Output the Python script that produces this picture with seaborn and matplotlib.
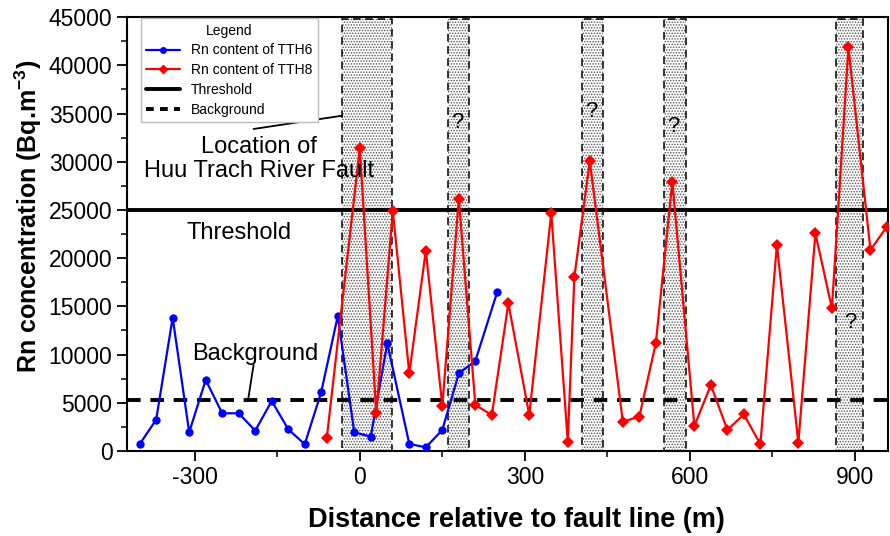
import seaborn as sns
import matplotlib.pyplot as plt
import pandas as pd
from matplotlib.patches import Rectangle
from matplotlib.lines import Line2D
from matplotlib.ticker import MultipleLocator

# radon profile values
tth6_dist = [-400, -370, -340, -310, -280, -250, -220, -190, -160, -130, -100, -70, -40,
             -10, 20, 50, 90, 120, 150, 180, 210, 250]
tth6_rn = [700, 3250, 13830, 1940, 7370, 3910, 3910, 2110, 5190, 2250, 700, 6120, 14000,
           1940, 1490, 11170, 730, 380, 2180, 8060, 9340, 16530]

tth8_dist = [-60, 0, 30, 60, 90, 120, 150, 180, 210, 240, 270, 308, 348, 378, 390,
             418, 478, 508, 538, 568, 608, 638, 668, 698, 728, 758, 797, 828, 858, 888, 928, 958]
tth8_rn = [1310, 31400, 3900, 24900, 8060, 20780, 4670, 26140, 4770, 3730, 15320, 3730, 24660,
           970, 18080, 30080, 3040, 3560, 11170, 27940, 2590, 6850, 2180, 3800, 690, 21370,
           860, 22580, 14800, 41870, 20850, 23270]

threshold = 25000
background = 5300

# suspected fault zones (m)
zone_start = [-32, 161, 404, 553, 866]
zone_end = [58, 199, 442, 592, 914]
qmark_x = [178, 420, 570, 891]
qmark_y = [34100, 35200, 33700, 13300]

sns.set_theme(style="ticks")
plt.rcParams['font.family'] = ['Liberation Sans', 'DejaVu Sans']
plt.rcParams['hatch.linewidth'] = 0.7
plt.rcParams['axes.unicode_minus'] = False
plt.rcParams['text.color'] = 'black'
plt.rcParams['axes.labelcolor'] = 'black'

fig, ax = plt.subplots(figsize=(8.9, 5.36), dpi=100)
fig.subplots_adjust(left=0.1427, right=0.9978, bottom=0.1586, top=0.968)

for lo, hi in zip(zone_start, zone_end):
    ax.add_patch(Rectangle((lo, 0), hi - lo, 44800, facecolor='white', edgecolor='#555555',
                           hatch='......', lw=0, zorder=1))
    ax.add_patch(Rectangle((lo, 0), hi - lo, 44800, fill=False, edgecolor='black',
                           lw=1.1, ls=(0, (5, 3)), zorder=2))

ax.axhline(threshold, color='black', lw=2.8, zorder=3)
ax.axhline(background, color='black', lw=2.8, ls=(0, (3.5, 2.5)), zorder=3)

df6 = pd.DataFrame({'dist': tth6_dist, 'rn': tth6_rn})
df8 = pd.DataFrame({'dist': tth8_dist, 'rn': tth8_rn})
sns.lineplot(data=df6, x='dist', y='rn', ax=ax, color='#0000ff', marker='o', markersize=6,
             markeredgewidth=0, lw=1.6, sort=False, zorder=4)
sns.lineplot(data=df8, x='dist', y='rn', ax=ax, color='#ff0000', marker='D', markersize=6,
             markeredgewidth=0, lw=1.6, sort=False, zorder=4)

# annotations
ax.text(-183, 30240, 'Location of\nHuu Trach River Fault', ha='center', va='center',
        fontsize=17, linespacing=1.12, zorder=5)
ax.plot([-193, -32], [33400, 34780], color='black', lw=1.3, zorder=5)
ax.text(-314, 22610, 'Threshold', ha='left', va='center', fontsize=17, zorder=5)
ax.text(-190, 10060, 'Background', ha='center', va='center', fontsize=17, zorder=5)
ax.plot([-193, -203], [8920, 5290], color='black', lw=1.3, zorder=5)
for qx, qy in zip(qmark_x, qmark_y):
    ax.text(qx, qy, '?', ha='center', va='center', fontsize=16, zorder=5)

handles = [
    Line2D([], [], color='#0000ff', marker='o', markersize=4, lw=1.6),
    Line2D([], [], color='#ff0000', marker='D', markersize=4, lw=1.6),
    Line2D([], [], color='black', lw=2.8),
    Line2D([], [], color='black', lw=2.8, ls=(0, (2, 1.6))),
]
labels = ['Rn content of TTH6', 'Rn content of TTH8', 'Threshold', 'Background']
leg = ax.legend(handles, labels, title='Legend', loc='upper left', bbox_to_anchor=(0.018, 0.998),
                borderaxespad=0, fontsize=10, title_fontsize=10, handlelength=2.4,
                labelspacing=0.42, fancybox=False, framealpha=1, edgecolor='#bbbbbb')
leg.set_zorder(6)

ax.set_xlim(-423, 960)
ax.set_ylim(0, 45000)
ax.xaxis.set_major_locator(MultipleLocator(300))
ax.xaxis.set_minor_locator(MultipleLocator(150))
ax.yaxis.set_major_locator(MultipleLocator(5000))
ax.yaxis.set_minor_locator(MultipleLocator(2500))
ax.tick_params(which='major', direction='out', length=7, width=1.3, labelsize=16.5, colors='black')
ax.tick_params(which='minor', direction='out', length=4, width=1.3)
for sp in ax.spines.values():
    sp.set_linewidth(1.5)
    sp.set_color('black')

ax.set_xlabel('Distance relative to fault line (m)', fontsize=19.5, fontweight='bold')
ax.set_ylabel('Rn concentration (Bq.m$^{\\mathregular{-3}}$)', fontsize=18, fontweight='bold')
ax.xaxis.set_label_coords(0.512, -0.13)
ax.yaxis.set_label_coords(-0.109, 0.541)

plt.savefig('out.png', dpi=100)
